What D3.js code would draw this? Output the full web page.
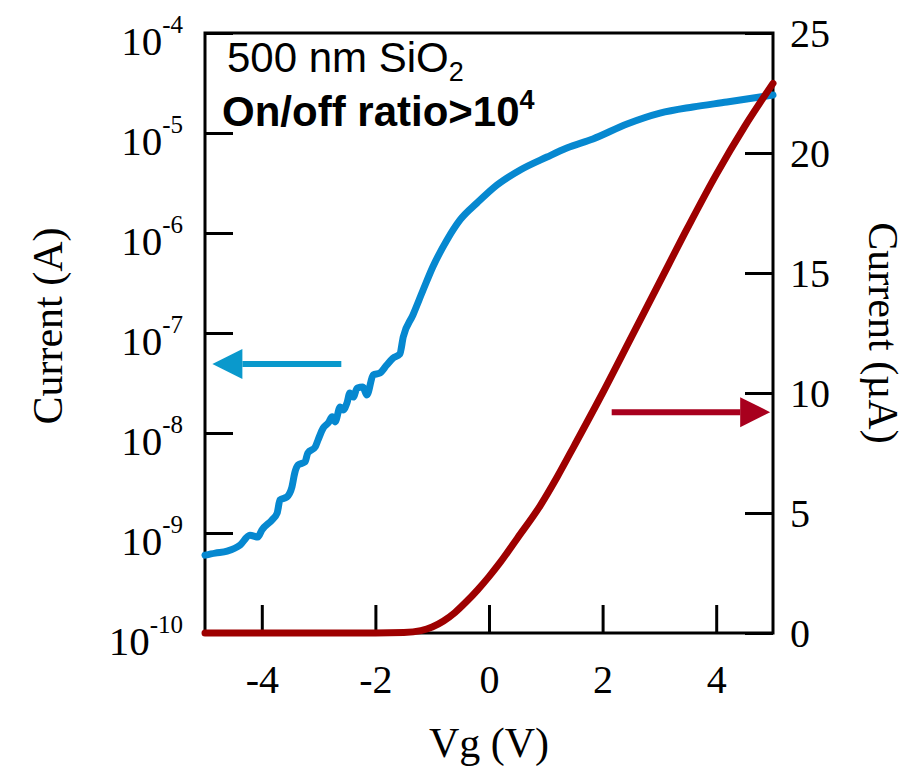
<!DOCTYPE html>
<html>
<head>
<meta charset="utf-8">
<script src="https://cdn.jsdelivr.net/npm/d3@7"></script>
<style>
  html, body { margin: 0; padding: 0; background: #fff; }
  svg { display: block; }
</style>
</head>
<body>
<svg id="chart" width="915" height="767"></svg>
<script>
// Transfer curve on log scale (left axis): gate voltage (V) and drain current (A)
const vgLog = [-5.00, -4.82, -4.61, -4.38, -4.21, -4.07, -4.00, -3.82, -3.73, -3.68,
  -3.56, -3.47, -3.42, -3.36, -3.24, -3.19, -3.06, -3.01, -2.92, -2.83,
  -2.76, -2.71, -2.62, -2.57, -2.50, -2.45, -2.39, -2.32, -2.22, -2.15,
  -2.04, -1.92, -1.80, -1.69, -1.57, -1.51, -1.34, -1.16, -0.99, -0.74,
  -0.51, -0.21, 0.14, 0.55, 1.02, 1.37, 1.83, 2.43, 3.01, 3.59,
  4.19, 4.77, 5.00];
const currentA = [6.0e-10, 6.3e-10, 6.6e-10, 7.6e-10, 9.5e-10, 9.1e-10, 1.07e-9, 1.35e-9, 1.58e-9, 2.14e-9,
  2.29e-9, 2.88e-9, 3.98e-9, 4.79e-9, 5.13e-9, 6.31e-9, 7.24e-9, 8.51e-9, 1.12e-8, 1.26e-8,
  1.45e-8, 1.29e-8, 1.82e-8, 1.70e-8, 2.00e-8, 2.51e-8, 2.29e-8, 2.82e-8, 2.88e-8, 2.40e-8,
  3.80e-8, 3.98e-8, 4.79e-8, 5.62e-8, 6.17e-8, 9.12e-8, 1.51e-7, 2.69e-7, 4.57e-7, 8.51e-7,
  1.35e-6, 2.00e-6, 3.02e-6, 4.27e-6, 5.75e-6, 7.08e-6, 8.71e-6, 1.23e-5, 1.58e-5, 1.82e-5,
  2.04e-5, 2.29e-5, 2.40e-5];

// Transfer curve on linear scale (right axis): gate voltage (V) and drain current (µA)
const vgLin = [-5.0, -4.0, -3.0, -2.0, -1.5, -1.2, -1.0, -0.8, -0.6, -0.4,
  -0.2, 0.0, 0.2, 0.5, 0.9, 1.2, 1.5, 2.0, 2.5, 3.0,
  3.5, 4.0, 4.5, 5.0];
const currentUA = [0, 0, 0, 0, 0.02, 0.1, 0.25, 0.5, 0.85, 1.3,
  1.8, 2.35, 2.95, 3.95, 5.3, 6.5, 7.8, 10.0, 12.3, 14.6,
  16.9, 19.1, 21.1, 22.9];

// Tick values
const xTicks = [-4, -2, 0, 2, 4];
const logTickExps = [-4, -5, -6, -7, -8, -9, -10];
const linTicks = [0, 5, 10, 15, 20, 25];

const svg = d3.select("#chart");
const serif = "'Liberation Serif', 'Times New Roman', serif";
const sans = "'Liberation Sans', Arial, sans-serif";

const plotLeft = 205, plotRight = 773, plotTop = 33, plotBottom = 633;
const x = d3.scaleLinear().domain([-5, 5]).range([plotLeft, plotRight]);
const yLog = d3.scaleLog().domain([1e-10, 1e-4]).range([plotBottom, plotTop]);
const yLin = d3.scaleLinear().domain([0, 25]).range([plotBottom, plotTop]);

const tickLen = 28;

// Bottom axis (ticks point inward)
const gx = svg.append("g")
  .attr("transform", `translate(0,${plotBottom})`)
  .call(d3.axisBottom(x).tickValues(xTicks).tickSize(-tickLen).tickFormat(d3.format("d")));
gx.select(".domain").remove();
gx.selectAll(".tick line").attr("stroke", "#000").attr("stroke-width", 3);
gx.selectAll(".tick text")
  .attr("y", 60).attr("dy", null)
  .attr("font-family", serif).attr("font-size", 40).attr("fill", "#000")
  .text(d => d < 0 ? "-" + Math.abs(d) : d);

// Left log axis with 10^n labels
const gl = svg.append("g")
  .attr("transform", `translate(${plotLeft},0)`)
  .call(d3.axisLeft(yLog).tickValues(logTickExps.map(e => Math.pow(10, e)))
    .tickSize(-tickLen).tickFormat(() => ""));
gl.select(".domain").remove();
gl.selectAll(".tick line").attr("stroke", "#000").attr("stroke-width", 3);
gl.selectAll(".tick text").each(function(d, i) {
  const t = d3.select(this)
    .attr("x", -22).attr("dy", null).attr("y", 21)
    .attr("text-anchor", "end")
    .attr("font-family", serif).attr("fill", "#000");
  t.text(null);
  t.append("tspan").attr("font-size", 41).text("10");
  t.append("tspan").attr("font-size", 25).attr("dy", -22).text(String(logTickExps[i]));
});

// Right linear axis
const gr = svg.append("g")
  .attr("transform", `translate(${plotRight},0)`)
  .call(d3.axisRight(yLin).tickValues(linTicks).tickSize(-tickLen).tickFormat(d3.format("d")));
gr.select(".domain").remove();
gr.selectAll(".tick line").attr("stroke", "#000").attr("stroke-width", 3);
gr.selectAll(".tick text")
  .attr("x", 17).attr("dy", "0.34em")
  .attr("font-family", serif).attr("font-size", 40).attr("fill", "#000");

// Plot frame
svg.append("rect")
  .attr("x", plotLeft).attr("y", plotTop)
  .attr("width", plotRight - plotLeft).attr("height", plotBottom - plotTop)
  .attr("fill", "none").attr("stroke", "#000").attr("stroke-width", 3);

// Curves
const logLine = d3.line().x(d => x(d[0])).y(d => yLog(d[1])).curve(d3.curveMonotoneX);
svg.append("path")
  .datum(d3.zip(vgLog, currentA))
  .attr("d", logLine)
  .attr("fill", "none").attr("stroke", "#0688d0").attr("stroke-width", 7)
  .attr("stroke-linejoin", "round").attr("stroke-linecap", "round");

const linLine = d3.line().x(d => x(d[0])).y(d => yLin(d[1])).curve(d3.curveMonotoneX);
svg.append("path")
  .datum(d3.zip(vgLin, currentUA))
  .attr("d", linLine)
  .attr("fill", "none").attr("stroke", "#9e0000").attr("stroke-width", 7)
  .attr("stroke-linejoin", "round").attr("stroke-linecap", "round");

// Arrows pointing at the axis each curve belongs to
function arrow(x0, x1, y, color, dir) {
  const head = 30, half = 15;
  const base = x1 - dir * head;
  svg.append("line")
    .attr("x1", x0).attr("x2", base).attr("y1", y).attr("y2", y)
    .attr("stroke", color).attr("stroke-width", 6);
  svg.append("path")
    .attr("d", `M${x1},${y}L${base},${y - half}L${base},${y + half}Z`)
    .attr("fill", color);
}
arrow(x(-2.6), x(-4.87), yLog(4.9e-8), "#0a99cc", -1);
arrow(x(2.16), x(4.95), yLin(9.2), "#a8001e", 1);

// Axis titles
svg.append("text")
  .attr("transform", `translate(62,326) rotate(-90)`)
  .attr("text-anchor", "middle")
  .attr("font-family", serif).attr("font-size", 42).attr("fill", "#000")
  .text("Current (A)");
svg.append("text")
  .attr("transform", `translate(869,333) rotate(90)`)
  .attr("text-anchor", "middle")
  .attr("font-family", serif).attr("font-size", 42).attr("fill", "#000")
  .text("Current (µA)");
svg.append("text")
  .attr("x", (plotLeft + plotRight) / 2).attr("y", 757)
  .attr("text-anchor", "middle")
  .attr("font-family", serif).attr("font-size", 42).attr("fill", "#000")
  .text("Vg (V)");

// Device annotation
const a1 = svg.append("text")
  .attr("x", 227).attr("y", 72)
  .attr("font-family", sans).attr("font-size", 42).attr("fill", "#000");
a1.append("tspan").text("500 nm SiO");
a1.append("tspan").attr("font-size", 27).attr("dy", 9).text("2");

const a2 = svg.append("text")
  .attr("x", 222).attr("y", 126)
  .attr("font-family", sans).attr("font-size", 42).attr("font-weight", "bold").attr("fill", "#000");
a2.append("tspan").text("On/off ratio>10");
a2.append("tspan").attr("font-size", 27).attr("dy", -17).text("4");
</script>
</body>
</html>
